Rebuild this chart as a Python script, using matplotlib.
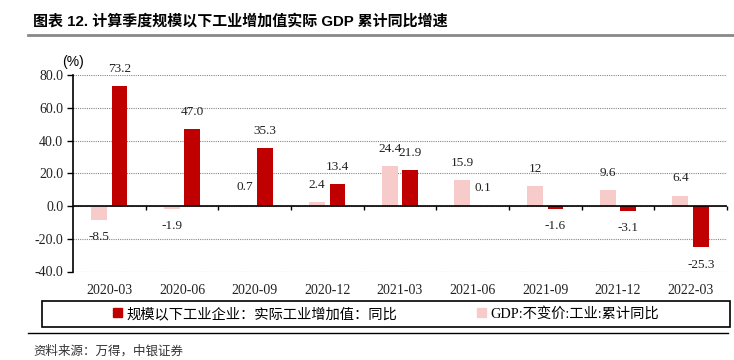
import numpy as np
import matplotlib
matplotlib.use("Agg")
from matplotlib import pyplot as plt
from matplotlib.lines import Line2D
from matplotlib.patches import Patch, Rectangle
from matplotlib.font_manager import FontProperties

quarters = ["2020-03", "2020-06", "2020-09", "2020-12", "2021-03",
            "2021-06", "2021-09", "2021-12", "2022-03"]
below_scale = [73.2, 47.0, 35.3, 13.4, 21.9, 0.1, -1.6, -3.1, -25.3]
gdp_industry = [-8.5, -1.9, 0.7, 2.4, 24.4, 15.9, 12, 9.6, 6.4]
yticks = [-40, -20, 0, 20, 40, 60, 80]

name_below = "规模以下工业企业：实际工业增加值：同比"
name_gdp = "GDP:不变价:工业:累计同比"
title = "图表 12. 计算季度规模以下工业增加值实际 GDP 累计同比增速"
source = "资料来源：万得，中银证券"

RED = "#C00000"
PINK = "#F8CBCB"
W, H = 734, 360

plt.rcParams['font.family'] = ['Liberation Serif', 'Noto Sans CJK SC']

fig = plt.figure(figsize=(W / 100, H / 100), dpi=100)
ax = fig.add_axes([73 / W, 1 - 271.5 / H, (727 - 73) / W, (271.5 - 75) / H])

x = np.arange(len(quarters))
ax.bar(x - 0.14, gdp_industry, 0.22, color=PINK, zorder=3)
ax.bar(x + 0.14, below_scale, 0.22, color=RED, zorder=3)

ax.set_xlim(-0.5, len(quarters) - 0.5)
ax.set_ylim(min(yticks), max(yticks))
ax.set_yticks(yticks, [f"{v:.1f}" for v in yticks])
ax.set_xticks(x, quarters)
ax.tick_params(axis='x', length=0, pad=9, labelsize=10, labelcolor='#222')
ax.tick_params(axis='y', direction='out', length=4, width=1, labelsize=10,
               labelcolor='#222', pad=3)
ax.yaxis.grid(True, linestyle=(0, (1, 1)), color='#888', lw=0.8, zorder=0)

for s in ['top', 'right', 'bottom']:
    ax.spines[s].set_visible(False)
ax.spines['left'].set_linewidth(1.2)

# zero axis with ticks at category boundaries
ax.axhline(0, color='black', lw=1.2, zorder=4)
ax.vlines(np.arange(0.5, len(quarters)), -2.5, 0, color='black', lw=1,
          zorder=4, clip_on=False)

# data labels
for xi, v in zip(x, gdp_industry):
    ax.annotate(f"{v:g}", (xi - 0.14, v), xytext=(0, 12.5 if v >= 0 else -12.5),
                textcoords='offset points', ha='center', va='center',
                fontsize=9.5, color='#222')
for xi, v in zip(x, below_scale):
    ax.annotate(f"{v:.1f}", (xi + 0.14, v), xytext=(0, 12.5 if v >= 0 else -12.5),
                textcoords='offset points', ha='center', va='center',
                fontsize=9.5, color='#222')

fig.text(73 / W, 1 - 62 / H, "(%)", ha='center', va='center', fontsize=10,
         family=['Liberation Sans', 'Noto Sans CJK SC'])

# title and rules
fig.text(33 / W, 1 - 21 / H, title, ha='left', va='center', fontsize=10.8,
         fontweight='bold', family=['Liberation Sans', 'Noto Sans CJK SC'])
fig.add_artist(Line2D([28 / W, 1], [1 - 35 / H] * 2, color='#888', lw=2))

# legend
fig.add_artist(Rectangle((42 / W, 1 - 327 / H), (730 - 42) / W, 26 / H,
                         fill=False, ec='black', lw=1.2, transform=fig.transFigure))
handles = [Patch(color=RED), Patch(color=PINK)]
fig.legend(handles, [name_below, name_gdp], loc='center',
           bbox_to_anchor=(386 / W, 1 - 314 / H), ncol=2, frameon=False,
           handlelength=0.6, handleheight=0.6, handletextpad=0.3,
           columnspacing=5.6,
           prop=FontProperties(family=['Liberation Serif', 'Noto Sans CJK SC'], size=10.3))

fig.add_artist(Line2D([28 / W, 728 / W], [1 - 333 / H] * 2, color='black', lw=1))
fig.text(33 / W, 1 - 351 / H, source, ha='left', va='center', fontsize=9,
         color='#333', style='italic', family=['Noto Sans CJK SC'])

fig.savefig("out.png", dpi=100)
